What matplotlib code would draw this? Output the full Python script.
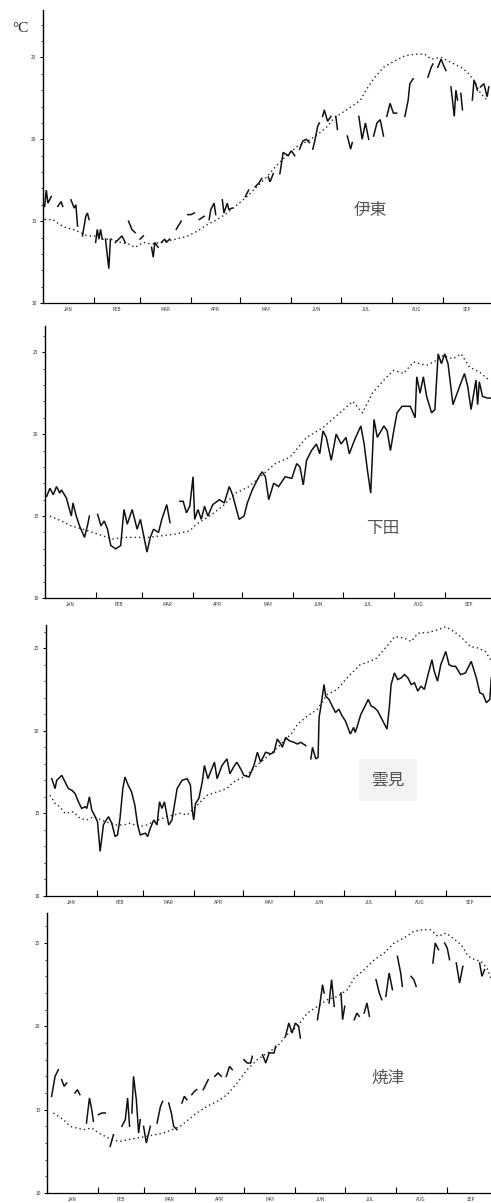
import numpy as np
import matplotlib
matplotlib.use("Agg")
import matplotlib.pyplot as plt

plt.rcParams['font.family'] = ['Noto Sans CJK JP', 'DejaVu Sans']
nan = float('nan')

# ---------------- data (day of year from Jan 1, temperature in °C) ----------------
months = ['JAN', 'FEB', 'MAR', 'APR', 'MAY', 'JUN', 'JUL', 'AUG', 'SEP']
month_starts = [0, 31, 59, 90, 120, 151, 181, 212, 243, 273]
stations = ['伊東', '下田', '雲見', '焼津']

# 伊東 observed (fragmentary) -- nan separates fragments
ito_obs_day = [1, 2, 3, 5, nan, 9, 11, 12, nan, 17, 19, 20, 21, nan, 24, 26, 27, 28, nan,
               32, 33, 34, 35, 36, nan, 38, 40, 41, nan, 44, 46, 48, 50, nan, 52, 54, 56, nan,
               59, 61, nan, 66, 67, 68, 70, nan, 72, 74, 75, 77, nan, 81, 84, nan, 88, 90, 92, nan,
               95, 98, nan, 101, 102, 104, 105, nan, 109, 110, 112, 113, 115, nan, 123, 125, nan,
               129, 131, 133, nan, 137, 138, 140, nan, 144, 146, 149, 151, 153, nan,
               156, 158, 160, 162, nan, 164, 165, 167, 168, nan, 170, 171, 173, 175, nan,
               178, 179, nan, 185, 187, 188, nan, 192, 194, 196, 198, nan, 201, 203, 205, 207, nan,
               209, 211, 213, 215, nan, 220, 222, 223, 225, nan, 234, 236, 237, nan,
               240, 242, 244, 245, nan, 248, 250, 251, 252, nan, 254, 255, nan,
               261, 262, 263, 264, nan, 266, 268, 270, 271]
ito_obs_val = [15.9, 16.9, 16.1, 16.5, nan, 15.9, 16.2, 15.9, nan, 16.3, 15.8, 16.0, 14.7, nan, 14.1, 15.3, 15.5, 15.1, nan,
               13.7, 14.5, 13.9, 14.5, 13.9, nan, 13.9, 12.1, 13.9, nan, 13.7, 13.9, 14.1, 13.7, nan, 15.0, 14.5, 14.3, nan,
               13.9, 14.1, nan, 13.4, 12.8, 13.7, 13.4, nan, 13.7, 13.9, 13.7, 13.9, nan, 14.5, 15.0, nan, 15.4, 15.4, 15.5, nan,
               15.1, 15.3, nan, 15.1, 15.7, 16.1, 15.4, nan, 16.3, 15.5, 16.1, 15.7, 15.8, nan, 16.5, 16.9, nan,
               17.1, 17.3, 17.6, nan, 17.7, 17.4, 17.9, nan, 17.9, 19.2, 19.0, 19.3, 19.0, nan,
               19.4, 19.9, 20.0, 19.8, nan, 19.4, 19.8, 20.8, 21.0, nan, 21.4, 21.8, 21.1, 21.4, nan,
               21.4, 20.6, nan, 20.2, 19.4, 19.8, nan, 21.4, 20.0, 21.0, 20.0, nan, 20.2, 21.0, 21.2, 20.2, nan,
               21.4, 22.2, 21.6, 21.6, nan, 21.4, 22.4, 23.4, 23.7, nan, 23.8, 24.4, 24.6, nan,
               24.4, 24.9, 24.4, 24.2, nan, 23.2, 21.4, 23.0, 22.4, nan, 22.8, 21.8, nan,
               22.4, 23.6, 23.4, 23.0, nan, 23.2, 23.4, 22.6, 23.2]
# 伊東 normal
ito_norm_day = [1, 6, 10, 14, 18, 23, 27, 31, 36, 41, 47, 52, 56, 61, 66, 71, 76, 81, 88, 94,
                100, 106, 112, 118, 124, 130, 136, 142, 149, 155, 161, 167, 172, 177, 183, 189, 193, 197, 201, 207,
                214, 220, 226, 232, 236, 242, 248, 254, 258, 262, 266, 270]
ito_norm_val = [15.1, 15.1, 14.8, 14.6, 14.5, 14.3, 14.1, 14.1, 13.9, 13.9, 13.7, 13.6, 13.4, 13.7, 13.6, 13.7, 13.8, 13.9, 14.1, 14.4,
                14.8, 15.1, 15.5, 16.0, 16.5, 17.1, 17.7, 18.4, 19.1, 19.6, 19.9, 20.3, 20.7, 21.3, 21.7, 22.1, 22.4, 23.1, 23.7, 24.4,
                24.8, 25.1, 25.2, 25.2, 24.9, 25.0, 24.7, 24.4, 24.1, 23.6, 22.8, 22.4]

# 下田 observed
shimoda_obs_day = [1, 3, 5, 7, 9, 10, 13, 16, 17, 19, 21, 24, 26, 27, nan,
                   32, 34, 36, 38, 40, 43, 46, 48, 50, 53, 56, 58, 60, 62, 64, 66, 69, 71, 74, 76, nan,
                   82, 84, 86, 88, 90, 91, 93, 95, 97, 99, 102, 106, 109, 112, 114, 118, 121, 123, 126, 130,
                   132, 134, 136, 139, 142, 146, 150, 153, 155, 157, 159, 162, 165, 167, 169, 171, 174, 177,
                   180, 183, 185, 188, 192, 194, 196, 198, 200, 202, 206, 208, 210, 212, 214, 217, 222, 225,
                   226, 228, 230, 232, 235, 237, 239, 241, 243, 245, 248, 252, 255, 257, 259, 262, 263, 264,
                   266, 269, 272]
shimoda_obs_val = [16.2, 16.7, 16.3, 16.8, 16.4, 16.6, 16.1, 15.0, 15.8, 15.0, 14.4, 13.7, 14.5, 15.0, nan,
                   15.1, 14.4, 14.7, 14.2, 13.2, 13.0, 13.2, 15.4, 14.5, 15.4, 14.2, 14.8, 13.8, 12.8, 13.7, 14.2, 14.0, 14.8, 15.7, 14.6, nan,
                   15.9, 15.9, 15.2, 15.6, 17.4, 14.8, 15.4, 14.8, 15.6, 15.0, 15.7, 16.0, 15.8, 16.8, 16.3, 14.8, 15.0, 15.8, 16.6, 17.4,
                   17.7, 17.4, 16.0, 17.0, 16.8, 17.4, 17.3, 18.2, 18.0, 16.9, 18.4, 19.0, 19.4, 18.8, 20.2, 19.8, 18.4, 20.0,
                   19.4, 19.8, 18.8, 19.6, 20.5, 19.4, 17.8, 16.4, 20.9, 19.8, 20.5, 20.2, 19.0, 20.2, 21.3, 21.7, 21.7, 21.0,
                   23.5, 22.5, 23.5, 22.3, 21.3, 21.5, 24.9, 24.3, 24.9, 24.3, 21.8, 22.9, 23.7, 22.9, 21.5, 23.3, 21.8, 23.2,
                   22.3, 22.2, 22.2]
shimoda_norm_day = [3, 10, 16, 23, 29, 35, 41, 49, 55, 63, 71, 79, 88, 92, 100, 108, 116, 124, 132, 140,
                    149, 159, 169, 177, 187, 193, 199, 206, 212, 218, 224, 232, 238, 242, 248, 253, 258, 264, 270]
shimoda_norm_val = [15.0, 14.7, 14.4, 14.2, 14.0, 13.8, 13.6, 13.7, 13.7, 13.7, 13.8, 13.9, 14.1, 14.5, 15.0, 15.6, 16.4, 16.8, 17.5, 18.2,
                    18.6, 19.8, 20.4, 21.1, 22.0, 21.3, 22.5, 23.3, 23.9, 23.7, 24.4, 24.2, 24.5, 24.8, 24.6, 24.9, 24.1, 23.8, 23.3]

# 雲見 observed
kumomi_obs_day = [3.5, 5.5, 6.5, 9.6, 11.6, 13.6, 15.7, 17.7, 19.7, 21.7, 23.8, 24.8, 26.4, 27.8, 29.9, 31.3, 32.9,
                  34.9, 36, 38, 40, 42, 43.5, 45, 46.7, 48, 50, 52, 54, 55.7, 57.3, 60.4, 61.8, 63.4, 65.5, 67.5,
                  69, 70.5, 72, 74.6, 76.6, 79.7, 82.7, 85.8, 87.8, 88.8, 89.8, 90.9, 92.9, 95, 96.3, 98.4, 100,
                  102.4, 104, 107, 110, 111.8, 114, 116, 118.3, 120.3, 123.4, 126.4, 128.5, 130.5, 133.5, 136.6,
                  138.6, 140.6, 142.7, 143.7, 145.7, 147.8, 150.8, 152.8, 154.9, 157.9, nan,
                  161, 162, 164, 165.4, 166, 167, 169, 170, 172, 174, 176, 178, 180, 182, 185, 187, 188, 189,
                  191.4, 193.5, 195.9, 197.6, 199.6, 201.6, 204.7, 207.3, 208.7, 209.8, 211.8, 213.8, 215.9,
                  217.9, 220, 222, 224, 226, 228, 230, 232, 234.6, 236, 238, 240, 243, 245, 247, 249, 252, 255,
                  258.5, 261.6, 263.7, 265.7, 267.7, 269.8, 270.7]
kumomi_obs_val = [17.1, 16.5, 17.0, 17.3, 16.9, 16.5, 16.4, 16.2, 15.7, 15.3, 15.4, 15.3, 16.0, 15.2, 14.8, 14.5, 12.7,
                  14.3, 14.5, 14.8, 14.4, 13.6, 13.7, 14.7, 16.5, 17.2, 16.7, 16.3, 15.5, 14.3, 13.7, 13.8, 13.6, 14.1, 14.6, 14.3,
                  15.7, 15.3, 15.7, 14.3, 14.6, 16.5, 17.0, 17.1, 16.7, 15.3, 14.6, 15.6, 15.9, 16.9, 17.9, 17.1, 17.5,
                  18.1, 17.1, 17.9, 18.3, 17.4, 17.8, 18.1, 17.7, 17.3, 17.2, 17.9, 18.7, 18.1, 18.7, 18.6,
                  18.7, 19.5, 19.2, 19.0, 19.6, 19.4, 19.3, 19.2, 19.3, 19.1, nan,
                  18.3, 19.0, 18.3, 18.4, 20.8, 21.4, 22.8, 22.1, 21.9, 21.5, 21.1, 21.3, 20.9, 20.6, 19.8, 20.2, 19.9, 20.2,
                  21.0, 21.4, 21.9, 21.5, 21.4, 21.2, 20.6, 20.1, 21.4, 22.8, 23.5, 23.1, 23.2,
                  23.4, 23.2, 22.8, 22.9, 22.4, 22.7, 22.5, 23.3, 24.3, 23.6, 23.0, 24.0, 24.8, 24.0, 23.9, 23.9, 23.4, 23.5,
                  24.2, 23.2, 22.3, 22.2, 21.7, 21.9, 23.2]
kumomi_norm_day = [2.4, 5.5, 8.5, 11.6, 16.7, 20.7, 24.8, 28.9, 36, 42, 47, 51, 57, 61.4, 65.5, 73.6, 81.7, 85.8, 91.9, 98,
                   104, 110, 114, 118, 122, 126, 130.5, 136.6, 143, 149, 153, 159, 165, 171, 177, 183, 191, 197, 201,
                   208, 212, 218, 222, 226, 232, 238, 243, 248, 252, 258, 263, 267, 271]
kumomi_norm_val = [16.1, 15.6, 15.4, 15.0, 15.1, 14.7, 14.6, 14.8, 14.5, 14.3, 14.3, 14.4, 14.2, 14.3, 14.5, 14.8, 15.0, 14.9, 15.5, 16.1,
                   16.3, 16.5, 16.9, 17.1, 17.3, 17.7, 18.1, 18.6, 19.2, 19.8, 20.4, 20.9, 21.3, 22.2, 22.5, 23.2, 24.0, 24.2, 24.4,
                   25.2, 25.7, 25.6, 25.4, 25.9, 25.95, 26.1, 26.3, 26.0, 25.7, 25.1, 25.0, 24.8, 24.2]

# 焼津 observed (fragmentary)
yaizu_obs_day = [2.8, 4.9, 6.9, nan, 8.9, 10.4, 12, nan, 17, 18.5, 20, nan, 24, 25.8, 27.2, 28.2, nan,
                 31.3, 33.3, 35.4, nan, 38.4, 40.4, nan, 45.5, 47.6, 49, 50.2, nan, 51.6, 52.6, 54.3, 55.7, 56.7, nan,
                 58.7, 60.4, 61.8, 62.8, nan, 66.9, 69, 70.3, nan, 74, 75.6, 77, 79, nan, 82, 83.5, 85, nan,
                 88, 89.6, 91, nan, 95, 98, nan, 102, 104, 106, nan, 109, 111, 112.6, nan,
                 119.7, 121.7, 123.8, 124.8, nan, 131, 133, 135, 138, 139, nan, 145, 147, 149, 151, 153, 154, nan,
                 164.4, 166, 167.5, 168.5, nan, 171.5, 173, 174.6, nan, 178.7, 179.7, 181, nan,
                 186.8, 188.4, 189.8, nan, 192.8, 194.5, 196, nan, 200, 202, 203.5, nan, 206, 208, 210, nan,
                 213, 215, 216, nan, 221.3, 223, 224.4, nan, 234.6, 236, 238, nan, 241.7, 243.3, 244.7, nan,
                 248.8, 250.8, 252.8, nan, 263, 264.4, 266]
yaizu_obs_val = [15.8, 17.0, 17.4, nan, 16.8, 16.4, 16.6, nan, 16.0, 16.2, 15.9, nan, 14.2, 15.7, 15.0, 14.3, nan,
                 14.7, 14.8, 14.8, nan, 12.8, 13.5, nan, 14.0, 14.4, 15.7, 14.0, nan, 14.8, 17.0, 15.6, 13.6, 14.4, nan,
                 14.0, 13.0, 13.6, 14.0, nan, 14.2, 15.2, 15.5, nan, 15.4, 14.8, 14.0, 13.8, nan, 15.4, 15.8, 15.6, nan,
                 15.9, 16.1, 16.2, nan, 16.2, 16.8, nan, 17.0, 17.2, 17.0, nan, 17.0, 17.6, 17.4, nan,
                 18.0, 17.8, 17.8, 18.2, nan, 18.3, 17.8, 18.4, 18.4, 18.8, nan, 19.4, 20.2, 19.6, 20.2, 20.0, 19.3, nan,
                 20.4, 21.4, 22.5, 22.0, nan, 21.4, 22.8, 21.2, nan, 22.0, 20.4, 21.2, nan,
                 20.4, 20.8, 20.6, nan, 20.8, 21.4, 20.6, nan, 22.8, 22.0, 21.6, nan, 21.8, 23.2, 22.2, nan,
                 24.2, 23.2, 22.4, nan, 23.0, 22.8, 22.4, nan, 23.8, 25.0, 24.6, nan, 25.0, 24.7, 24.0, nan,
                 23.8, 22.6, 23.6, nan, 23.8, 23.0, 23.4]
yaizu_norm_day = [3.9, 6.9, 10, 14, 18, 22.2, 27.2, 31.3, 35.4, 39.4, 44.5, 49.6, 54.7, 60.8, 65.8, 71, 76, 81, 86, 91,
                  97.3, 103.5, 109.5, 115.6, 121.7, 127.8, 134, 140, 146, 152.2, 158.3, 164.4, 170.5, 176.6, 182.7,
                  186.8, 192.9, 199, 205, 211, 217, 223, 229, 233, 237.6, 242.7, 247.8, 251.8, 256, 260, 264, 268, 270]
yaizu_norm_val = [14.8, 14.6, 14.4, 14.0, 13.9, 13.8, 13.9, 13.6, 13.4, 13.2, 13.1, 13.2, 13.3, 13.4, 13.5, 13.6, 13.8, 14.0, 14.4, 14.8,
                  15.2, 15.5, 15.9, 16.6, 17.4, 18.0, 18.4, 18.8, 19.5, 20.0, 20.8, 21.2, 21.6, 21.8, 22.2,
                  22.9, 23.4, 24.0, 24.4, 25.0, 25.3, 25.7, 25.8, 25.8, 25.4, 25.6, 25.2, 24.9, 24.2, 24.0, 23.9, 23.4, 22.8]

yticks = [10, 15, 20, 25]

# ---------------- layout ----------------
W, H = 491, 1203
fig = plt.figure(figsize=(W / 100, H / 100), dpi=100)

panels = [
    dict(box=(43, 10, 303), ymax=27.9, obs=(ito_obs_day, ito_obs_val), norm=(ito_norm_day, ito_norm_val),
         name_xy=(370, 210), patch=False),
    dict(box=(45, 326, 598), ymax=26.6, obs=(shimoda_obs_day, shimoda_obs_val), norm=(shimoda_norm_day, shimoda_norm_val),
         name_xy=(383, 528), patch=False),
    dict(box=(46, 625, 896), ymax=26.4, obs=(kumomi_obs_day, kumomi_obs_val), norm=(kumomi_norm_day, kumomi_norm_val),
         name_xy=(388, 780), patch=True),
    dict(box=(47, 913, 1193), ymax=26.8, obs=(yaizu_obs_day, yaizu_obs_val), norm=(yaizu_norm_day, yaizu_norm_val),
         name_xy=(388, 1078), patch=False),
]

mid_month = [(month_starts[i] + month_starts[i + 1]) / 2 for i in range(len(months))]

for p, name in zip(panels, stations):
    l, t, b = p['box']
    r = 491
    ax = fig.add_axes([l / W, 1 - b / H, (r - l) / W, (b - t) / H])
    ax.set_xlim(0, (r - l) / 1.645)
    ax.set_ylim(10, p['ymax'])
    ax.plot(p['norm'][0], p['norm'][1], color='#222222', lw=1.0, linestyle=(0, (1, 2.2)))
    ax.plot(p['obs'][0], p['obs'][1], color='#111111', lw=1.1, solid_joinstyle='miter')
    for s in ['top', 'right']:
        ax.spines[s].set_visible(False)
    ax.spines['left'].set_linewidth(1.0)
    ax.spines['bottom'].set_linewidth(0.9)
    ax.set_yticks(yticks)
    ax.set_yticks(np.arange(10, int(p['ymax']) + 1, 1), minor=True)
    ax.set_yticklabels([str(v) for v in yticks], fontsize=3.5, color='#333333')
    ax.tick_params(axis='y', which='major', length=2.5, width=0.7, direction='out', pad=2)
    ax.tick_params(axis='y', which='minor', length=1.5, width=0.5, direction='out')
    ax.set_xticks(month_starts[1:-1])
    ax.set_xticklabels([''] * (len(month_starts) - 2))
    ax.set_xticks(mid_month, minor=True)
    ax.set_xticklabels(months, minor=True, fontsize=3.4, color='#333333')
    ax.tick_params(axis='x', which='major', length=4, width=0.8, direction='in')
    ax.tick_params(axis='x', which='minor', length=0, pad=3)
    ax.patch.set_alpha(0)
    bbox = dict(facecolor='#f3f3f3', edgecolor='none', pad=9) if p['patch'] else None
    fig.text(p['name_xy'][0] / W, 1 - p['name_xy'][1] / H, name, fontsize=12, color='#555555',
             ha='center', va='center', family=['Noto Sans CJK JP', 'DejaVu Sans'], bbox=bbox)

fig.text(20 / W, 1 - 29 / H, '°C', fontsize=11, family=['Liberation Serif', 'DejaVu Serif'],
         ha='center', va='center', color='#222222')

fig.savefig('out.png', dpi=100)
